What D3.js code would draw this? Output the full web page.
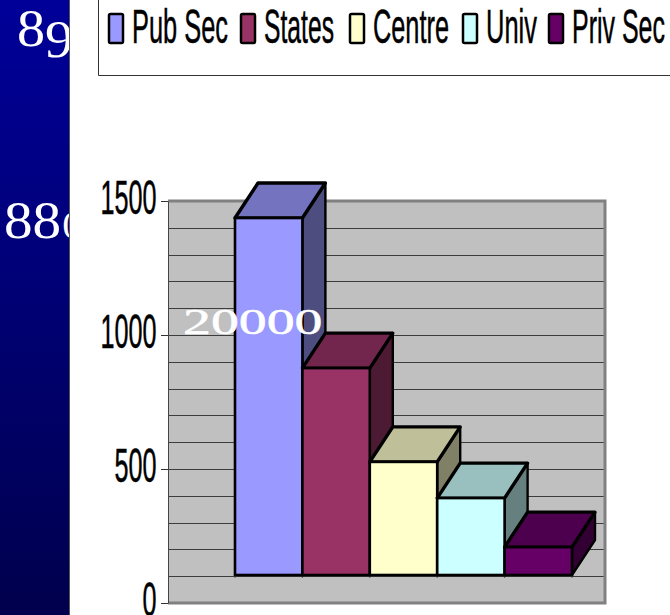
<!DOCTYPE html>
<html>
<head>
<meta charset="utf-8">
<script src="https://d3js.org/d3.v7.min.js"></script>
<style>
  html, body { margin: 0; padding: 0; background: #fff; overflow: hidden; }
  svg { display: block; }
</style>
</head>
<body>
<svg id="chart" width="670" height="615"></svg>
<script>
// Sector totals
const categories = ["Pub Sec", "States", "Centre", "Univ", "Priv Sec"];
const values = [1332, 772, 422, 287, 104];
const axisTicks = [0, 500, 1000, 1500];
const gridTicks = [100, 200, 300, 400, 500, 600, 700, 800, 900, 1000, 1100, 1200, 1300, 1400];
const fills = ["#9999ff", "#993366", "#ffffcc", "#ccffff", "#660066"];
const sideTexts = ["89", "880"];
const overlayText = "20000";

const svg = d3.select("#chart");
const defs = svg.append("defs");

const grad = defs.append("linearGradient")
  .attr("id", "panel").attr("x1", 0).attr("y1", 0).attr("x2", 0).attr("y2", 1);
grad.append("stop").attr("offset", 0).attr("stop-color", "#000099");
grad.append("stop").attr("offset", 1).attr("stop-color", "#00004d");

defs.append("clipPath").attr("id", "panelClip")
  .append("rect").attr("width", 69).attr("height", 615);

// Slide background panel with its clipped headline numbers
svg.append("rect").attr("width", 69).attr("height", 615).attr("fill", "url(#panel)");
svg.append("line").attr("x1", 69.5).attr("x2", 69.5).attr("y1", 0).attr("y2", 615)
  .attr("stroke", "#555").attr("stroke-width", 1);

const serif = "'Liberation Serif', serif";
const panelText = svg.append("g").attr("clip-path", "url(#panelClip)")
  .attr("fill", "#fff").attr("font-family", serif);

// Old-style figures: descending 9 and x-height 0
const t89 = panelText.append("text").attr("transform", "translate(17,46) scale(1.08,1)").attr("font-size", 52);
t89.append("tspan").text(sideTexts[0][0]);
t89.append("tspan").attr("dy", 11).text(sideTexts[0][1]);

const t880 = panelText.append("text").attr("transform", "translate(4,238) scale(1.1,1)").attr("font-size", 52);
t880.append("tspan").text(sideTexts[1].slice(0, 2));
t880.append("tspan").attr("font-size", 37).attr("dx", 1).text(sideTexts[1][2]);

// Legend frame, open at the top and right
svg.append("path").attr("d", "M98.5,0V75.5H670").attr("fill", "none")
  .attr("stroke", "#333").attr("stroke-width", 1);

const sans = "'Liberation Sans', Arial, sans-serif";
const legendX = [108, 240, 349, 462, 548];
const legendW = [96, 70, 76, 51, 93];
const legend = svg.append("g").selectAll("g").data(categories).join("g")
  .attr("transform", (d, i) => `translate(${legendX[i]},0)`);
legend.append("rect")
  .attr("x", 1).attr("y", 14).attr("width", 14).attr("height", 29).attr("rx", 1.5)
  .attr("fill", (d, i) => fills[i]).attr("stroke", "#000").attr("stroke-width", 2.5);
legend.append("text")
  .attr("font-family", sans).attr("font-size", 48)
  .attr("fill", "#000").attr("stroke", "#000").attr("stroke-width", 0.5)
  .text(d => d)
  .attr("transform", function (d, i) {
    // condense each entry to its slot in the legend row
    const k = legendW[i] / this.getComputedTextLength();
    return `translate(24,43) scale(${k},1)`;
  });

// Plot geometry
const wallLeft = 168, wallRight = 605, wallTop = 201, wallBottom = 603;
const depthX = 23, depthY = 35, floorLift = 28;

const y = d3.scaleLinear().domain([0, 1500]).range([wallBottom, wallTop]);
const x = d3.scaleBand().domain(categories).range([235, 572]);

// Back wall
svg.append("rect").attr("x", wallLeft).attr("y", wallTop)
  .attr("width", wallRight - wallLeft).attr("height", wallBottom - wallTop).attr("fill", "#c0c0c0");

// Horizontal gridlines
svg.append("g").selectAll("line").data(gridTicks).join("line")
  .attr("x1", wallLeft).attr("x2", wallRight)
  .attr("y1", d => Math.round(y(d)) + 0.5).attr("y2", d => Math.round(y(d)) + 0.5)
  .attr("stroke", "#3c3c3c").attr("stroke-width", 1);

// Wall border: heavy grey on the top, right and bottom, thin on the axis side
svg.append("path")
  .attr("d", `M${wallLeft},${wallTop}H${wallRight}V${wallBottom}H${wallLeft}`)
  .attr("fill", "none").attr("stroke", "#808080").attr("stroke-width", 3);

// Value axis
const axis = d3.axisLeft(y).tickValues(axisTicks).tickFormat(d3.format("d"))
  .tickSize(7).tickPadding(11).tickSizeOuter(0);
const axisG = svg.append("g").attr("transform", `translate(${wallLeft},0)`).call(axis);
axisG.select(".domain").attr("stroke", "#444");
axisG.selectAll(".tick line").attr("stroke", "#333");
const labelScale = 0.525;
axisG.selectAll(".tick text")
  .attr("font-family", sans).attr("font-size", 48)
  .attr("fill", "#000").attr("stroke", "#000").attr("stroke-width", 0.5)
  .attr("dy", 12)
  .attr("x", -11.5 / labelScale)
  .attr("transform", `scale(${labelScale},1)`);

// Floor line and category ticks beneath the bars
const floorY = y(0) - floorLift;
const barH = d => y(0) - y(d);
svg.append("g").selectAll("line")
  .data([...categories.map(c => x(c)), x.range()[1]]).join("line")
  .attr("x1", d => d).attr("x2", d => d).attr("y1", floorY).attr("y2", floorY + 3)
  .attr("stroke", "#555");

// Columns, left to right so each one overlaps its neighbour's side face
const bars = svg.append("g").selectAll("g").data(categories).join("g");
const darken = (c, k) => d3.rgb(c.r * k, c.g * k, c.b * k).formatHex();

bars.each(function (cat, i) {
  const g = d3.select(this);
  const c = d3.rgb(fills[i]);
  const x0 = x(cat), x1 = x0 + x.bandwidth();
  const yTop = floorY - barH(values[i]);

  // right side face
  g.append("polygon")
    .attr("points", [[x1, yTop], [x1 + depthX, yTop - depthY], [x1 + depthX, floorY - depthY], [x1, floorY]].join(" "))
    .attr("fill", darken(c, 0.5)).attr("stroke", "#000").attr("stroke-width", 2.4).attr("stroke-linejoin", "round");
  // top face
  g.append("polygon")
    .attr("points", [[x0, yTop], [x0 + depthX, yTop - depthY], [x1 + depthX, yTop - depthY], [x1, yTop]].join(" "))
    .attr("fill", darken(c, 0.75)).attr("stroke", "#000").attr("stroke-width", 3.4).attr("stroke-linejoin", "round");
  // front face
  g.append("rect")
    .attr("x", x0).attr("y", yTop).attr("width", x1 - x0).attr("height", floorY - yTop)
    .attr("fill", fills[i]).attr("stroke", "#000").attr("stroke-width", 2.6);
});

// Slide number laid over the plot
svg.append("text")
  .attr("transform", "translate(183,334) scale(1.55,1)")
  .attr("font-family", serif).attr("font-size", 36)
  .attr("fill", "#fff").attr("stroke", "#fff").attr("stroke-width", 0.5)
  .text(overlayText);
</script>
</body>
</html>
